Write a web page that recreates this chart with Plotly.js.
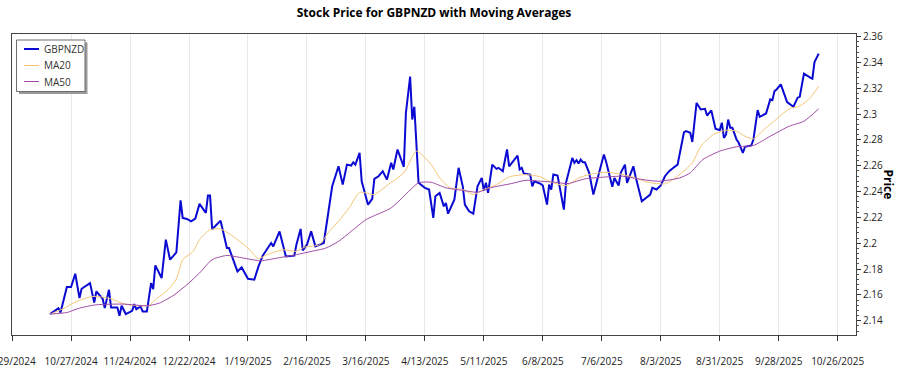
<!DOCTYPE html>
<html>
<head>
<meta charset="utf-8">
<script src="https://cdn.plot.ly/plotly-3.0.1.min.js"></script>
<style>
html,body{margin:0;padding:0;background:#fff;}
#chart{width:900px;height:375px;}
</style>
</head>
<body>
<div id="chart"></div>
<script>
// GBPNZD close
const priceDates = [
"2024-10-17","2024-10-19","2024-10-21","2024-10-22","2024-10-23","2024-10-25","2024-10-27","2024-10-29","2024-10-31","2024-11-01",
"2024-11-05","2024-11-07","2024-11-08","2024-11-11","2024-11-12","2024-11-14","2024-11-15","2024-11-18","2024-11-19","2024-11-20",
"2024-11-22","2024-11-25","2024-11-26","2024-11-27","2024-11-29","2024-11-30","2024-12-02","2024-12-04","2024-12-05","2024-12-06",
"2024-12-09","2024-12-11","2024-12-13","2024-12-16","2024-12-18","2024-12-19","2024-12-21","2024-12-23","2024-12-25","2024-12-27",
"2024-12-30","2024-12-31","2025-01-01","2025-01-02","2025-01-06","2025-01-09","2025-01-10","2025-01-14","2025-01-16","2025-01-19",
"2025-01-22","2025-01-24","2025-01-26","2025-01-28","2025-01-30","2025-01-31","2025-02-03","2025-02-06","2025-02-10","2025-02-11",
"2025-02-13","2025-02-14","2025-02-16","2025-02-18","2025-02-20","2025-02-24","2025-02-28","2025-03-03","2025-03-05","2025-03-07",
"2025-03-09","2025-03-10","2025-03-11","2025-03-13","2025-03-14","2025-03-17","2025-03-19","2025-03-20","2025-03-22","2025-03-24",
"2025-03-26","2025-03-28","2025-03-29","2025-03-31","2025-04-03","2025-04-04","2025-04-06","2025-04-07","2025-04-08","2025-04-10",
"2025-04-13","2025-04-15","2025-04-17","2025-04-18","2025-04-20","2025-04-22","2025-04-23","2025-04-24","2025-04-26","2025-04-27",
"2025-04-29","2025-05-01","2025-05-02","2025-05-04","2025-05-06","2025-05-08","2025-05-10","2025-05-11","2025-05-12","2025-05-13",
"2025-05-15","2025-05-17","2025-05-18","2025-05-20","2025-05-22","2025-05-23","2025-05-27","2025-05-28","2025-05-29","2025-05-30",
"2025-06-02","2025-06-03","2025-06-04","2025-06-07","2025-06-08","2025-06-10","2025-06-11","2025-06-12","2025-06-13","2025-06-15",
"2025-06-18","2025-06-19","2025-06-22","2025-06-23","2025-06-24","2025-06-25","2025-06-26","2025-06-27","2025-06-28","2025-06-30",
"2025-07-02","2025-07-04","2025-07-05","2025-07-07","2025-07-08","2025-07-10","2025-07-11","2025-07-12","2025-07-14","2025-07-15",
"2025-07-17","2025-07-18","2025-07-21","2025-07-22","2025-07-25","2025-07-29","2025-07-30","2025-08-01","2025-08-03","2025-08-05",
"2025-08-07","2025-08-09","2025-08-11","2025-08-14","2025-08-15","2025-08-17","2025-08-18","2025-08-20","2025-08-22","2025-08-24",
"2025-08-25","2025-08-27","2025-08-29","2025-08-31","2025-09-01","2025-09-02","2025-09-03","2025-09-04","2025-09-05","2025-09-06",
"2025-09-08","2025-09-09","2025-09-11","2025-09-12","2025-09-15","2025-09-16","2025-09-18","2025-09-19","2025-09-22","2025-09-24",
"2025-09-25","2025-09-26","2025-09-27","2025-09-29","2025-10-02","2025-10-05","2025-10-07","2025-10-08","2025-10-10","2025-10-13",
"2025-10-14","2025-10-15","2025-10-17"
];
const priceValues = [
2.1452,2.1477,2.1498,2.1464,2.1537,2.1661,2.1661,2.1764,2.1576,2.1648,
2.1692,2.1542,2.1627,2.1570,2.1498,2.1640,2.1503,2.1503,2.1438,2.1516,
2.1452,2.1477,2.1529,2.1490,2.1511,2.1472,2.1472,2.1692,2.1645,2.1829,
2.1731,2.2028,2.1873,2.1929,2.2333,2.2196,2.2188,2.2170,2.2191,2.2305,
2.2235,2.2369,2.2369,2.2109,2.2175,2.1963,2.1963,2.1782,2.1813,2.1725,
2.1718,2.1821,2.1904,2.1950,2.2002,2.1976,2.2092,2.1898,2.1904,2.1989,
2.2111,2.1945,2.1989,2.2092,2.1976,2.2002,2.2441,2.2596,2.2454,2.2609,
2.2602,2.2627,2.2609,2.2700,2.2480,2.2299,2.2343,2.2499,2.2519,2.2558,
2.2493,2.2623,2.2571,2.2726,2.2592,2.3010,2.3290,2.2958,2.3057,2.2468,
2.2429,2.2416,2.2196,2.2364,2.2390,2.2286,2.2312,2.2229,2.2307,2.2338,
2.2584,2.2441,2.2299,2.2247,2.2229,2.2441,2.2506,2.2408,2.2468,2.2390,
2.2609,2.2576,2.2584,2.2558,2.2726,2.2596,2.2679,2.2571,2.2584,2.2540,
2.2532,2.2441,2.2480,2.2460,2.2447,2.2299,2.2454,2.2416,2.2532,2.2524,
2.2260,2.2468,2.2661,2.2623,2.2643,2.2617,2.2648,2.2627,2.2627,2.2545,
2.2377,2.2506,2.2571,2.2687,2.2635,2.2493,2.2437,2.2506,2.2447,2.2545,
2.2609,2.2468,2.2596,2.2519,2.2325,2.2377,2.2429,2.2416,2.2447,2.2519,
2.2558,2.2584,2.2609,2.2858,2.2868,2.2855,2.2784,2.3086,2.3036,2.3041,
2.2989,2.3028,2.2886,2.2875,2.2933,2.2816,2.2842,2.2958,2.2894,2.2894,
2.2803,2.2778,2.2700,2.2747,2.2757,2.2803,2.3031,2.2979,2.3005,2.3114,
2.3108,2.3178,2.3191,2.3230,2.3093,2.3057,2.3127,2.3134,2.3313,2.3282,
2.3274,2.3403,2.3468
];

// 20-day moving average
const ma20Dates = [
"2024-10-17","2024-10-24","2024-10-28","2024-11-01","2024-11-06","2024-11-11","2024-11-15","2024-11-21","2024-11-27","2024-12-03",
"2024-12-06","2024-12-12","2024-12-16","2024-12-19","2024-12-24","2024-12-27","2025-01-01","2025-01-06","2025-01-12","2025-01-19",
"2025-01-24","2025-01-28","2025-02-05","2025-02-11","2025-02-15","2025-02-22","2025-02-26","2025-03-03","2025-03-08","2025-03-13",
"2025-03-17","2025-03-20","2025-03-27","2025-04-03","2025-04-09","2025-04-16","2025-04-20","2025-04-25","2025-05-01","2025-05-06",
"2025-05-11","2025-05-17","2025-05-23","2025-05-31","2025-06-07","2025-06-11","2025-06-19","2025-06-25","2025-06-30","2025-07-08",
"2025-07-16","2025-07-22","2025-07-28","2025-08-05","2025-08-11","2025-08-18","2025-08-22","2025-08-28","2025-09-03","2025-09-08",
"2025-09-12","2025-09-16","2025-09-22","2025-09-29","2025-10-03","2025-10-08","2025-10-13","2025-10-17"
];
const ma20Values = [
2.1452,2.1498,2.1537,2.1563,2.1588,2.1583,2.1570,2.1532,2.1518,2.1518,
2.1563,2.1640,2.1723,2.1873,2.1937,2.2028,2.2105,2.2111,2.2053,2.1963,
2.1881,2.1912,2.1950,2.1937,2.1971,2.1989,2.2080,2.2170,2.2274,2.2395,
2.2385,2.2377,2.2460,2.2545,2.2713,2.2609,2.2506,2.2429,2.2416,2.2377,
2.2416,2.2454,2.2514,2.2532,2.2514,2.2480,2.2447,2.2506,2.2532,2.2550,
2.2532,2.2506,2.2472,2.2460,2.2519,2.2623,2.2751,2.2842,2.2875,2.2868,
2.2829,2.2809,2.2894,2.2989,2.3041,2.3062,2.3127,2.3217
];

// 50-day moving average
const ma50Dates = [
"2024-10-17","2024-10-25","2024-10-31","2024-11-08","2024-11-21","2024-12-02","2024-12-08","2024-12-15","2024-12-21","2024-12-27",
"2025-01-01","2025-01-03","2025-01-09","2025-01-15","2025-01-25","2025-02-02","2025-02-11","2025-02-18","2025-02-25","2025-03-03",
"2025-03-09","2025-03-16","2025-03-20","2025-03-28","2025-04-03","2025-04-10","2025-04-16","2025-04-23","2025-05-01","2025-05-08",
"2025-05-14","2025-05-24","2025-05-31","2025-06-07","2025-06-14","2025-06-20","2025-06-28","2025-07-06","2025-07-16","2025-07-23",
"2025-08-02","2025-08-12","2025-08-17","2025-08-23","2025-08-31","2025-09-08","2025-09-16","2025-09-24","2025-10-03","2025-10-10",
"2025-10-17"
];
const ma50Values = [
2.1452,2.1464,2.1498,2.1524,2.1529,2.1516,2.1537,2.1601,2.1679,2.1770,
2.1860,2.1881,2.1906,2.1891,2.1865,2.1886,2.1912,2.1937,2.1963,2.2015,
2.2092,2.2183,2.2214,2.2274,2.2364,2.2468,2.2472,2.2429,2.2410,2.2395,
2.2429,2.2462,2.2488,2.2480,2.2472,2.2462,2.2499,2.2511,2.2519,2.2499,
2.2480,2.2506,2.2545,2.2648,2.2713,2.2747,2.2757,2.2829,2.2906,2.2945,
2.3041
];

const seriesNames = ["GBPNZD","MA20","MA50"];
const seriesColors = ["#0a0ad2", "#f5c575", "#a04aa6"];
const seriesWidths = [2, 1, 1];
const chartTitle = "Stock Price for GBPNZD with Moving Averages";
const yTitle = "Price";

const FONT = "'Segoe UI', 'Open Sans', 'Noto Sans', sans-serif";

const traces = [
  {x: priceDates, y: priceValues, name: seriesNames[0], type: "scatter", mode: "lines",
   line: {color: seriesColors[0], width: seriesWidths[0]}},
  {x: ma20Dates, y: ma20Values, name: seriesNames[1], type: "scatter", mode: "lines",
   line: {color: seriesColors[1], width: seriesWidths[1], shape: "spline", smoothing: 0.6}},
  {x: ma50Dates, y: ma50Values, name: seriesNames[2], type: "scatter", mode: "lines",
   line: {color: seriesColors[2], width: seriesWidths[2], shape: "spline", smoothing: 0.6}}
];

// Legend box drawn in paper coordinates (plot area: 844 x 301 px)
const PW = 844, PH = 301;
const px = v => (v - 12) / PW;      // page x -> paper x
const py = v => (335 - v) / PH;     // page y -> paper y

const shapes = [
  {type: "rect", xref: "paper", yref: "paper", layer: "above",
   x0: px(19), x1: px(87.5), y0: py(94), y1: py(42.5),
   fillcolor: "#9a9a9a", line: {width: 0}},
  {type: "rect", xref: "paper", yref: "paper", layer: "above",
   x0: px(16.5), x1: px(85), y0: py(91.5), y1: py(40),
   fillcolor: "#ffffff", line: {color: "#6e6e6e", width: 1}}
];
const legendRows = [49, 65.5, 81.5];
const annotations = [];
seriesNames.forEach((n, i) => {
  shapes.push({type: "line", xref: "paper", yref: "paper", layer: "above",
    x0: px(24), x1: px(39), y0: py(legendRows[i]), y1: py(legendRows[i]),
    line: {color: seriesColors[i], width: seriesWidths[i]}});
  annotations.push({text: n, xref: "paper", yref: "paper", x: px(41.5), y: py(legendRows[i]),
    xanchor: "left", yanchor: "middle", showarrow: false,
    font: {family: FONT, size: 10, color: "#333"}});
});
annotations.push({text: "<b>" + yTitle + "</b>", xref: "paper", yref: "paper", x: 1.038, y: 0.5,
  xanchor: "center", yanchor: "middle", textangle: 90, showarrow: false,
  font: {family: FONT, size: 12, color: "#000"}});

const layout = {
  width: 900, height: 375,
  margin: {l: 12, r: 44, t: 34, b: 40},
  paper_bgcolor: "#fff", plot_bgcolor: "#fff",
  font: {family: FONT, size: 10, color: "#222"},
  showlegend: false,
  hovermode: false,
  title: {text: "<b>" + chartTitle + "</b>", x: 0.5, xref: "paper", xanchor: "center",
          y: 1, yref: "container", yanchor: "top", pad: {t: 9},
          font: {family: FONT, size: 12, color: "#000"}},
  xaxis: {
    type: "date",
    range: ["2024-09-28 23:00", "2025-11-03 17:00"],
    tick0: "2024-09-29", dtick: 28 * 86400000,
    tickformat: "%-m/%-d/%Y",
    ticks: "outside", ticklen: 5, tickcolor: "#333",
    ticklabelstandoff: 12,
    ticklabeloverflow: "allow",
    showgrid: true, gridcolor: "#e8e8e8", gridwidth: 1,
    showline: true, linecolor: "#444", linewidth: 1, mirror: true,
    zeroline: false,
    tickfont: {family: FONT, size: 10, color: "#222"}
  },
  yaxis: {
    side: "right",
    range: [2.129, 2.362],
    tick0: 2.14, dtick: 0.02,
    ticks: "outside", ticklen: 4, tickcolor: "#333",
    minor: {dtick: 0.004, ticks: "outside", ticklen: 2, tickcolor: "#555", showgrid: false},
    showgrid: false,
    showline: true, linecolor: "#444", linewidth: 1, mirror: true,
    zeroline: false,
    tickfont: {family: FONT, size: 10, color: "#222"}
  },
  shapes: shapes,
  annotations: annotations
};

Plotly.newPlot("chart", traces, layout, {displayModeBar: false, staticPlot: true});
</script>
</body>
</html>
